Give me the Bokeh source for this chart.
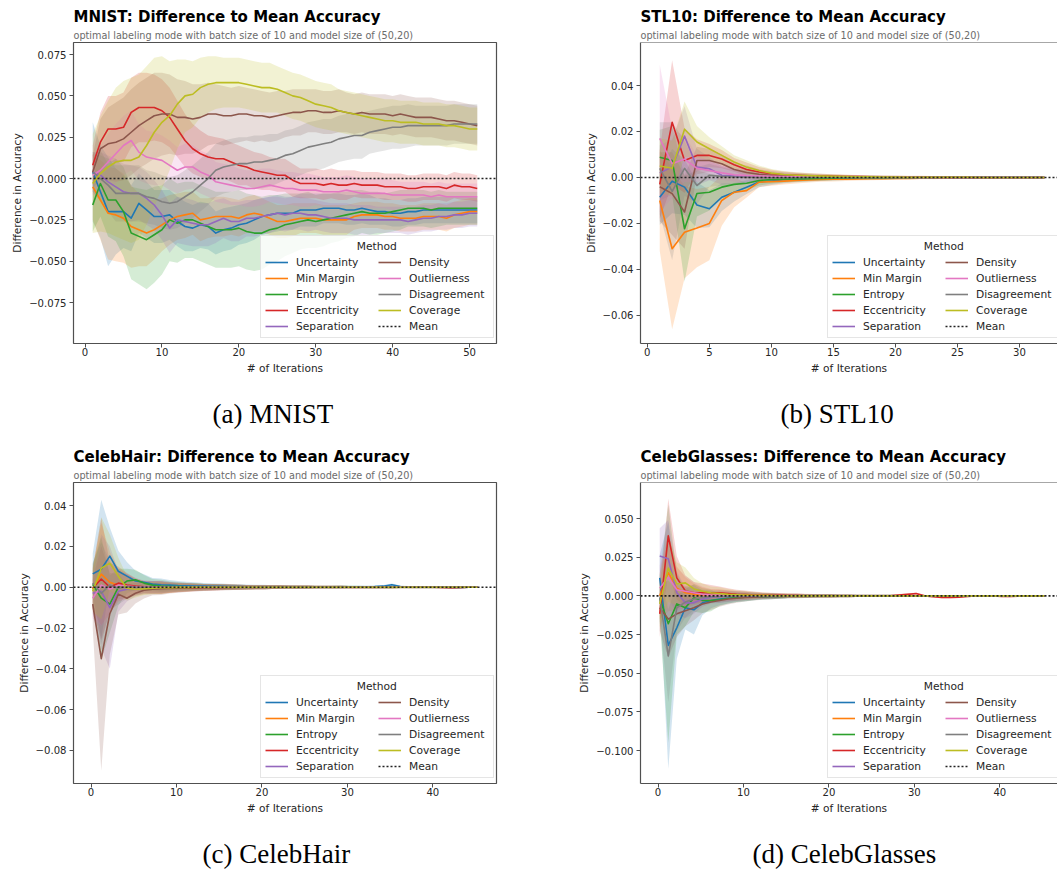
from bokeh.plotting import figure
from bokeh.models import (Range1d, Legend, LegendItem, Span, FixedTicker,
                          CustomJSTickFormatter, Title)
from bokeh.layouts import column, row
from bokeh.embed import file_html
from bokeh.resources import INLINE

# ---------------- data ----------------
METHODS = ["Uncertainty", "Min Margin", "Entropy", "Eccentricity", "Separation",
           "Density", "Outlierness", "Disagreement", "Coverage"]
COLORS = ["#1f77b4", "#ff7f0e", "#2ca02c", "#d62728", "#9467bd",
          "#8c564b", "#e377c2", "#7f7f7f", "#bcbd22"]
MEAN_LEVEL = 0.0
LEGEND_TITLE = "Method"

# ---- MNIST (iterations 1..51) ----
MN_ITER = list(range(1, 52))
MN_UNC = [0.004, -0.008, -0.020, -0.020, -0.020, -0.024, -0.015, -0.019, -0.023, -0.023,
          -0.022, -0.026, -0.029, -0.030, -0.028, -0.029, -0.033, -0.031, -0.030, -0.028,
          -0.027, -0.025, -0.023, -0.022, -0.021, -0.021, -0.021, -0.019, -0.019, -0.019,
          -0.018, -0.018, -0.018, -0.019, -0.019, -0.018, -0.019, -0.020, -0.020, -0.021,
          -0.021, -0.020, -0.020, -0.019, -0.019, -0.019, -0.019, -0.019, -0.019, -0.019,
          -0.019]
MN_MAR = [-0.005, -0.013, -0.021, -0.022, -0.024, -0.029, -0.031, -0.033, -0.031, -0.028,
          -0.025, -0.023, -0.022, -0.021, -0.025, -0.024, -0.023, -0.023, -0.023, -0.024,
          -0.022, -0.021, -0.022, -0.024, -0.026, -0.026, -0.025, -0.024, -0.024, -0.024,
          -0.025, -0.025, -0.025, -0.025, -0.023, -0.022, -0.022, -0.022, -0.023, -0.023,
          -0.024, -0.024, -0.024, -0.023, -0.023, -0.023, -0.024, -0.022, -0.021, -0.020,
          -0.020]
MN_ENT = [-0.016, -0.003, -0.013, -0.013, -0.020, -0.033, -0.035, -0.037, -0.034, -0.031,
          -0.025, -0.027, -0.025, -0.025, -0.027, -0.029, -0.031, -0.031, -0.031, -0.030,
          -0.032, -0.033, -0.033, -0.031, -0.030, -0.028, -0.027, -0.026, -0.025, -0.026,
          -0.025, -0.024, -0.023, -0.022, -0.021, -0.020, -0.021, -0.021, -0.021, -0.020,
          -0.019, -0.018, -0.018, -0.018, -0.019, -0.018, -0.018, -0.018, -0.018, -0.018,
          -0.018]
MN_ECC = [0.008, 0.022, 0.030, 0.030, 0.031, 0.040, 0.043, 0.043, 0.043, 0.041,
          0.037, 0.030, 0.023, 0.018, 0.015, 0.013, 0.012, 0.012, 0.010, 0.008,
          0.007, 0.005, 0.004, 0.003, 0.002, 0.002, -0.001, -0.003, -0.003, -0.003,
          -0.004, -0.003, -0.004, -0.004, -0.003, -0.004, -0.004, -0.004, -0.005, -0.005,
          -0.005, -0.006, -0.006, -0.005, -0.005, -0.005, -0.006, -0.004, -0.005, -0.005,
          -0.006]
MN_SEP = [0.004, 0.002, -0.002, -0.005, -0.008, -0.009, -0.009, -0.012, -0.016, -0.022,
          -0.030, -0.025, -0.026, -0.027, -0.028, -0.028, -0.026, -0.024, -0.026, -0.026,
          -0.024, -0.024, -0.023, -0.022, -0.021, -0.022, -0.021, -0.021, -0.022, -0.022,
          -0.023, -0.024, -0.024, -0.024, -0.025, -0.025, -0.025, -0.025, -0.025, -0.025,
          -0.025, -0.026, -0.025, -0.024, -0.024, -0.023, -0.023, -0.022, -0.022, -0.021,
          -0.021]
MN_DEN = [0.004, 0.018, 0.021, 0.022, 0.024, 0.028, 0.032, 0.035, 0.038, 0.039,
          0.039, 0.037, 0.037, 0.036, 0.037, 0.039, 0.039, 0.038, 0.038, 0.039,
          0.039, 0.038, 0.038, 0.037, 0.038, 0.039, 0.040, 0.040, 0.041, 0.041,
          0.040, 0.040, 0.041, 0.040, 0.039, 0.040, 0.039, 0.039, 0.039, 0.038,
          0.039, 0.038, 0.037, 0.037, 0.037, 0.036, 0.035, 0.035, 0.034, 0.033,
          0.032]
MN_OUT = [0.002, 0.005, 0.010, 0.015, 0.020, 0.023, 0.016, 0.013, 0.012, 0.011,
          0.008, 0.005, 0.007, 0.007, 0.004, 0.002, -0.002, -0.003, -0.004, -0.005,
          -0.006, -0.006, -0.005, -0.004, -0.005, -0.006, -0.006, -0.007, -0.007, -0.007,
          -0.008, -0.008, -0.008, -0.007, -0.008, -0.009, -0.009, -0.009, -0.009, -0.010,
          -0.010, -0.010, -0.010, -0.010, -0.011, -0.010, -0.011, -0.011, -0.011, -0.011,
          -0.011]
MN_DIS = [0.004, 0.000, -0.004, -0.009, -0.009, -0.009, -0.009, -0.011, -0.012, -0.014,
          -0.015, -0.014, -0.011, -0.008, -0.004, 0.000, 0.005, 0.007, 0.008, 0.009,
          0.009, 0.010, 0.010, 0.011, 0.012, 0.014, 0.015, 0.017, 0.019, 0.020,
          0.021, 0.022, 0.024, 0.025, 0.026, 0.026, 0.028, 0.029, 0.030, 0.031,
          0.031, 0.032, 0.032, 0.032, 0.032, 0.032, 0.032, 0.033, 0.033, 0.033,
          0.033]
MN_COV = [-0.003, 0.003, 0.007, 0.010, 0.011, 0.011, 0.013, 0.020, 0.028, 0.034,
          0.038, 0.045, 0.050, 0.051, 0.055, 0.057, 0.058, 0.058, 0.058, 0.058,
          0.057, 0.056, 0.055, 0.055, 0.054, 0.052, 0.050, 0.049, 0.047, 0.045,
          0.044, 0.043, 0.041, 0.040, 0.039, 0.038, 0.037, 0.036, 0.035, 0.035,
          0.034, 0.034, 0.034, 0.033, 0.033, 0.033, 0.032, 0.032, 0.031, 0.030,
          0.030]
# confidence half-widths
MN_UNC_S = [0.030, 0.028, 0.033, 0.026, 0.022, 0.020, 0.018, 0.017, 0.016, 0.016,
            0.015, 0.015, 0.015, 0.014, 0.014, 0.014, 0.013, 0.013, 0.013, 0.012,
            0.012, 0.012, 0.011, 0.011, 0.011, 0.010, 0.010, 0.010, 0.010, 0.010,
            0.009, 0.009, 0.009, 0.009, 0.009, 0.009, 0.009, 0.008, 0.008, 0.008,
            0.008, 0.008, 0.008, 0.008, 0.008, 0.008, 0.008, 0.008, 0.008, 0.008,
            0.008]
MN_MAR_S = [0.020, 0.024, 0.028, 0.028, 0.027, 0.025, 0.022, 0.020, 0.018, 0.016,
            0.015, 0.014, 0.014, 0.013, 0.013, 0.012, 0.012, 0.012, 0.011, 0.011,
            0.011, 0.011, 0.010, 0.010, 0.010, 0.010, 0.010, 0.009, 0.009, 0.009,
            0.009, 0.009, 0.009, 0.009, 0.008, 0.008, 0.008, 0.008, 0.008, 0.008,
            0.008, 0.008, 0.008, 0.008, 0.008, 0.008, 0.008, 0.008, 0.008, 0.008,
            0.008]
MN_ENT_S = [0.016, 0.020, 0.022, 0.025, 0.027, 0.028, 0.029, 0.030, 0.029, 0.027,
            0.025, 0.024, 0.023, 0.023, 0.023, 0.023, 0.023, 0.023, 0.023, 0.023,
            0.023, 0.023, 0.022, 0.021, 0.020, 0.019, 0.018, 0.017, 0.017, 0.016,
            0.016, 0.015, 0.015, 0.014, 0.014, 0.013, 0.013, 0.013, 0.012, 0.012,
            0.012, 0.011, 0.011, 0.011, 0.011, 0.011, 0.010, 0.010, 0.010, 0.010,
            0.010]
MN_ECC_S = [0.012, 0.018, 0.020, 0.020, 0.021, 0.021, 0.021, 0.021, 0.020, 0.019,
            0.018, 0.017, 0.016, 0.015, 0.014, 0.013, 0.013, 0.012, 0.012, 0.012,
            0.011, 0.011, 0.011, 0.010, 0.010, 0.010, 0.010, 0.009, 0.009, 0.009,
            0.009, 0.009, 0.009, 0.009, 0.008, 0.008, 0.008, 0.008, 0.008, 0.008,
            0.008, 0.008, 0.008, 0.008, 0.008, 0.008, 0.008, 0.008, 0.008, 0.008,
            0.008]
MN_SEP_S = [0.012, 0.014, 0.016, 0.017, 0.017, 0.017, 0.016, 0.016, 0.015, 0.015,
            0.015, 0.014, 0.014, 0.014, 0.013, 0.013, 0.013, 0.012, 0.012, 0.012,
            0.011, 0.011, 0.011, 0.011, 0.010, 0.010, 0.010, 0.010, 0.010, 0.009,
            0.009, 0.009, 0.009, 0.009, 0.009, 0.009, 0.009, 0.008, 0.008, 0.008,
            0.008, 0.008, 0.008, 0.008, 0.008, 0.008, 0.008, 0.008, 0.008, 0.008,
            0.008]
MN_DEN_S = [0.010, 0.018, 0.022, 0.024, 0.025, 0.026, 0.026, 0.026, 0.026, 0.025,
            0.024, 0.023, 0.022, 0.021, 0.020, 0.019, 0.018, 0.018, 0.017, 0.017,
            0.016, 0.016, 0.015, 0.015, 0.015, 0.014, 0.014, 0.014, 0.013, 0.013,
            0.013, 0.013, 0.013, 0.012, 0.012, 0.012, 0.012, 0.012, 0.012, 0.012,
            0.012, 0.012, 0.012, 0.012, 0.012, 0.012, 0.012, 0.012, 0.012, 0.012,
            0.012]
MN_OUT_S = [0.012, 0.015, 0.017, 0.018, 0.018, 0.018, 0.017, 0.016, 0.016, 0.015,
            0.015, 0.014, 0.014, 0.013, 0.013, 0.013, 0.012, 0.012, 0.012, 0.011,
            0.011, 0.011, 0.011, 0.010, 0.010, 0.010, 0.010, 0.010, 0.010, 0.009,
            0.009, 0.009, 0.009, 0.009, 0.009, 0.009, 0.009, 0.009, 0.009, 0.009,
            0.008, 0.008, 0.008, 0.008, 0.008, 0.008, 0.008, 0.008, 0.008, 0.008,
            0.008]
MN_DIS_S = [0.012, 0.014, 0.016, 0.017, 0.017, 0.017, 0.017, 0.016, 0.016, 0.016,
            0.016, 0.016, 0.016, 0.016, 0.016, 0.016, 0.016, 0.016, 0.016, 0.016,
            0.016, 0.016, 0.016, 0.016, 0.015, 0.015, 0.015, 0.015, 0.015, 0.015,
            0.015, 0.014, 0.014, 0.014, 0.014, 0.014, 0.013, 0.013, 0.013, 0.013,
            0.013, 0.013, 0.012, 0.012, 0.012, 0.012, 0.012, 0.012, 0.012, 0.012,
            0.012]
MN_COV_S = [0.030, 0.035, 0.040, 0.045, 0.048, 0.050, 0.050, 0.048, 0.045, 0.040,
            0.033, 0.027, 0.022, 0.020, 0.018, 0.017, 0.016, 0.015, 0.015, 0.015,
            0.015, 0.015, 0.015, 0.015, 0.014, 0.014, 0.014, 0.014, 0.014, 0.014,
            0.014, 0.014, 0.013, 0.013, 0.013, 0.013, 0.013, 0.013, 0.013, 0.013,
            0.013, 0.013, 0.013, 0.013, 0.013, 0.013, 0.013, 0.013, 0.013, 0.013,
            0.013]

# ---- STL10 (iterations 1..32) ----
ST_ITER = list(range(1, 33))
ST_UNC = [-0.0086, -0.0016, -0.0042, -0.0120, -0.0136, -0.0086, -0.0064, -0.0042, -0.0020, -0.0015,
          -0.0010, -0.0008, -0.0006, -0.0005, -0.0004, -0.0003, -0.0003, -0.0002, -0.0002, -0.0002,
          -0.0001, -0.0001, -0.0001, -0.0001, 0.0000, 0.0000, 0.0000, 0.0000, 0.0000, 0.0000,
          0.0000, 0.0000]
ST_MAR = [-0.0100, -0.0310, -0.0238, -0.0220, -0.0200, -0.0100, -0.0064, -0.0057, -0.0020, -0.0018,
          -0.0016, -0.0013, -0.0011, -0.0009, -0.0008, -0.0007, -0.0006, -0.0005, -0.0005, -0.0004,
          -0.0004, -0.0003, -0.0003, -0.0003, -0.0002, -0.0002, -0.0002, -0.0001, -0.0001, -0.0001,
          -0.0001, 0.0000]
ST_ENT = [0.0088, 0.0074, -0.0223, -0.0070, -0.0064, -0.0042, -0.0030, -0.0025, -0.0013, -0.0009,
          -0.0007, -0.0006, -0.0005, -0.0004, -0.0003, -0.0003, -0.0002, -0.0002, -0.0002, -0.0001,
          -0.0001, -0.0001, -0.0001, 0.0000, 0.0000, 0.0000, 0.0000, 0.0000, 0.0000, 0.0000,
          0.0000, 0.0000]
ST_ECC = [-0.0030, 0.0240, 0.0074, 0.0096, 0.0096, 0.0080, 0.0055, 0.0035, 0.0024, 0.0016,
          0.0011, 0.0009, 0.0007, 0.0006, 0.0005, 0.0004, 0.0004, 0.0003, 0.0003, 0.0002,
          0.0002, 0.0002, 0.0001, 0.0001, 0.0001, 0.0001, 0.0000, 0.0000, 0.0000, 0.0000,
          0.0000, 0.0000]
ST_SEP = [0.0020, 0.0045, 0.0180, 0.0045, 0.0038, 0.0010, 0.0006, 0.0004, 0.0003, 0.0002,
          0.0002, 0.0001, 0.0001, 0.0001, 0.0001, 0.0000, 0.0000, 0.0000, 0.0000, 0.0000,
          0.0000, 0.0000, 0.0000, 0.0000, 0.0000, 0.0000, 0.0000, 0.0000, 0.0000, 0.0000,
          0.0000, 0.0000]
ST_DEN = [-0.0040, -0.0070, -0.0150, 0.0074, 0.0074, 0.0060, 0.0035, 0.0022, 0.0014, 0.0010,
          0.0008, 0.0006, 0.0005, 0.0004, 0.0003, 0.0003, 0.0002, 0.0002, 0.0002, 0.0001,
          0.0001, 0.0001, 0.0001, 0.0001, 0.0000, 0.0000, 0.0000, 0.0000, 0.0000, 0.0000,
          0.0000, 0.0000]
ST_OUT = [0.0170, 0.0060, 0.0080, 0.0040, 0.0030, 0.0020, 0.0012, 0.0008, 0.0006, 0.0005,
          0.0004, 0.0003, 0.0003, 0.0002, 0.0002, 0.0002, 0.0001, 0.0001, 0.0001, 0.0001,
          0.0001, 0.0000, 0.0000, 0.0000, 0.0000, 0.0000, 0.0000, 0.0000, 0.0000, 0.0000,
          0.0000, 0.0000]
ST_DIS = [0.0040, -0.0060, 0.0040, -0.0035, 0.0010, 0.0005, 0.0002, 0.0001, 0.0000, -0.0001,
          -0.0001, -0.0001, 0.0000, 0.0000, 0.0000, 0.0000, 0.0000, 0.0000, 0.0000, 0.0000,
          0.0000, 0.0000, 0.0000, 0.0000, 0.0000, 0.0000, 0.0000, 0.0000, 0.0000, 0.0000,
          0.0000, 0.0000]
ST_COV = [0.0050, 0.0040, 0.0210, 0.0154, 0.0125, 0.0096, 0.0067, 0.0045, 0.0030, 0.0019,
          0.0013, 0.0010, 0.0008, 0.0006, 0.0005, 0.0004, 0.0003, 0.0003, 0.0002, 0.0002,
          0.0001, 0.0001, 0.0001, 0.0001, 0.0001, 0.0001, 0.0000, 0.0000, 0.0000, 0.0000,
          0.0000, 0.0000]
ST_TAIL_S = [0.0030, 0.0022, 0.0018, 0.0015, 0.0013, 0.0011, 0.0010, 0.0009, 0.0008, 0.0007,
             0.0007, 0.0006, 0.0006, 0.0005, 0.0005, 0.0005, 0.0004, 0.0004, 0.0004, 0.0004,
             0.0003, 0.0003, 0.0003, 0.0003, 0.0003]
ST_UNC_S = [0.012, 0.014, 0.012, 0.010, 0.008, 0.006, 0.004] + ST_TAIL_S
ST_MAR_S = [0.022, 0.035, 0.020, 0.017, 0.016, 0.011, 0.0065] + ST_TAIL_S
ST_ENT_S = [0.012, 0.015, 0.023, 0.010, 0.008, 0.005, 0.004] + ST_TAIL_S
ST_ECC_S = [0.015, 0.027, 0.014, 0.007, 0.005, 0.004, 0.003] + ST_TAIL_S
ST_SEP_S = [0.012, 0.012, 0.013, 0.008, 0.005, 0.004, 0.003] + ST_TAIL_S
ST_DEN_S = [0.015, 0.018, 0.016, 0.006, 0.005, 0.004, 0.003] + ST_TAIL_S
ST_OUT_S = [0.032, 0.015, 0.010, 0.006, 0.004, 0.003, 0.003] + ST_TAIL_S
ST_DIS_S = [0.020, 0.030, 0.012, 0.008, 0.005, 0.004, 0.003] + ST_TAIL_S
ST_COV_S = [0.012, 0.012, 0.012, 0.007, 0.005, 0.004, 0.003] + ST_TAIL_S

# ---- CelebHair (46 steps starting at 0.2) ----
CH_ITER = [0.2, 1.2, 2.2, 3.2, 4.2, 5.2, 6.2, 7.2, 8.2, 9.2,
           10.2, 11.2, 12.2, 13.2, 14.2, 15.2, 16.2, 17.2, 18.2, 19.2,
           20.2, 21.2, 22.2, 23.2, 24.2, 25.2, 26.2, 27.2, 28.2, 29.2,
           30.2, 31.2, 32.2, 33.2, 34.2, 35.2, 36.2, 37.2, 38.2, 39.2,
           40.2, 41.2, 42.2, 43.2, 44.2, 45.2]
CH_UNC = [0.0065, 0.0088, 0.0152, 0.0078, 0.0054, 0.0030, 0.0024, 0.0015, 0.0012, 0.0010,
          0.0008, 0.0007, 0.0006, 0.0005, 0.0004, 0.0004, 0.0003, 0.0003, 0.0002, 0.0002,
          0.0002, 0.0001, 0.0001, 0.0001, 0.0000, 0.0000, 0.0000, 0.0000, 0.0000, 0.0001,
          0.0001, 0.0002, 0.0002, 0.0003, 0.0005, 0.0012, 0.0003, 0.0001, 0.0000, 0.0000,
          0.0000, 0.0000, -0.0001, -0.0001, 0.0000, 0.0000]
CH_MAR = [-0.0010, 0.0064, 0.0024, 0.0010, 0.0005, -0.0002, -0.0004, -0.0003, -0.0002, -0.0002,
          -0.0001, -0.0001, -0.0001, 0.0000, 0.0000, 0.0000, 0.0000, 0.0000, 0.0000, 0.0000,
          0.0000, 0.0000, 0.0000, 0.0000, 0.0000, 0.0000, 0.0000, 0.0000, 0.0000, 0.0000,
          0.0000, 0.0000, 0.0000, 0.0000, 0.0000, 0.0000, 0.0000, 0.0000, 0.0000, 0.0000,
          0.0000, 0.0000, 0.0000, 0.0000, 0.0000, 0.0000]
CH_ENT = [0.0014, -0.0054, -0.0083, 0.0000, 0.0030, 0.0036, 0.0020, 0.0010, 0.0006, 0.0004,
          0.0003, 0.0002, 0.0002, 0.0001, 0.0001, 0.0000, 0.0000, 0.0000, 0.0000, 0.0000,
          0.0000, 0.0000, 0.0000, 0.0000, 0.0000, 0.0000, 0.0000, 0.0000, 0.0000, 0.0001,
          0.0002, 0.0001, 0.0000, 0.0000, 0.0000, 0.0000, 0.0000, 0.0000, 0.0000, 0.0000,
          0.0000, 0.0000, 0.0000, 0.0000, 0.0000, 0.0000]
CH_ECC = [-0.0005, 0.0040, 0.0000, 0.0020, 0.0010, 0.0005, 0.0002, 0.0000, -0.0002, -0.0003,
          -0.0003, -0.0002, -0.0002, -0.0001, -0.0001, -0.0001, 0.0000, 0.0000, 0.0000, 0.0000,
          0.0000, 0.0000, 0.0000, 0.0000, 0.0000, 0.0000, 0.0000, 0.0000, 0.0000, 0.0000,
          0.0000, 0.0000, 0.0000, 0.0000, 0.0000, 0.0000, 0.0000, 0.0000, 0.0000, 0.0000,
          0.0000, -0.0001, -0.0002, -0.0001, 0.0000, 0.0000]
CH_SEP = [-0.0030, -0.0020, -0.0100, -0.0020, -0.0010, -0.0005, -0.0003, -0.0002, -0.0001, 0.0000,
          0.0000, 0.0000, 0.0000, 0.0000, 0.0000, 0.0000, 0.0000, 0.0000, 0.0000, 0.0000,
          0.0000, 0.0000, 0.0000, 0.0000, 0.0000, 0.0000, 0.0000, 0.0000, 0.0000, 0.0000,
          0.0000, 0.0000, 0.0000, 0.0000, 0.0000, 0.0001, 0.0001, 0.0000, 0.0000, 0.0000,
          0.0000, 0.0000, 0.0000, 0.0000, 0.0000, 0.0000]
CH_DEN = [-0.0083, -0.0350, -0.0130, -0.0034, -0.0054, -0.0030, -0.0015, -0.0010, -0.0008, -0.0006,
          -0.0005, -0.0004, -0.0003, -0.0003, -0.0002, -0.0002, -0.0002, -0.0001, -0.0001, -0.0001,
          -0.0001, 0.0000, 0.0000, 0.0000, 0.0000, 0.0000, 0.0000, 0.0000, 0.0000, 0.0000,
          0.0000, 0.0000, 0.0000, 0.0000, 0.0000, 0.0000, 0.0000, 0.0000, 0.0000, 0.0000,
          0.0000, 0.0000, 0.0000, 0.0000, 0.0000, 0.0000]
CH_OUT = [-0.0054, 0.0010, -0.0010, 0.0010, 0.0005, 0.0002, 0.0001, 0.0000, 0.0000, 0.0000,
          0.0000, 0.0000, 0.0000, 0.0000, 0.0000, 0.0000, 0.0000, 0.0000, 0.0000, 0.0000,
          0.0000, 0.0000, 0.0000, 0.0000, 0.0000, 0.0000, 0.0000, 0.0000, 0.0000, 0.0000,
          0.0000, 0.0000, 0.0000, 0.0000, 0.0000, 0.0001, 0.0001, 0.0000, 0.0000, 0.0000,
          0.0000, 0.0000, 0.0000, 0.0000, 0.0000, 0.0000]
CH_DIS = [0.0020, -0.0030, 0.0010, -0.0005, 0.0003, 0.0001, 0.0000, 0.0000, 0.0000, 0.0000,
          0.0000, 0.0000, 0.0000, 0.0000, 0.0000, 0.0000, 0.0000, 0.0000, 0.0000, 0.0000,
          0.0000, 0.0000, 0.0000, 0.0000, 0.0000, 0.0000, 0.0000, 0.0000, 0.0000, 0.0000,
          0.0000, 0.0000, 0.0000, 0.0000, 0.0000, 0.0000, 0.0000, 0.0000, 0.0000, 0.0000,
          0.0000, 0.0000, 0.0000, 0.0000, 0.0000, 0.0000]
CH_COV = [-0.0020, 0.0093, 0.0118, 0.0054, -0.0005, -0.0010, -0.0008, -0.0005, -0.0003, -0.0002,
          -0.0001, -0.0001, 0.0000, 0.0000, 0.0000, 0.0000, 0.0000, 0.0000, 0.0000, 0.0000,
          0.0000, 0.0000, 0.0000, 0.0000, 0.0000, 0.0000, 0.0000, 0.0000, 0.0000, 0.0000,
          0.0000, 0.0000, 0.0000, 0.0000, 0.0000, 0.0000, 0.0000, 0.0000, 0.0000, 0.0000,
          0.0000, 0.0000, 0.0000, 0.0000, 0.0000, 0.0000]
CH_TAIL_S = [0.0030, 0.0030, 0.0025, 0.0022, 0.0020, 0.0018, 0.0016, 0.0015, 0.0014, 0.0013,
             0.0012, 0.0011, 0.0010, 0.0010, 0.0009, 0.0009, 0.0008, 0.0008, 0.0008, 0.0007,
             0.0007, 0.0007, 0.0007, 0.0006, 0.0006, 0.0006, 0.0006, 0.0006, 0.0006, 0.0005,
             0.0005, 0.0005, 0.0005, 0.0005, 0.0005, 0.0005, 0.0005, 0.0004, 0.0004]
CH_UNC_S = [0.010, 0.034, 0.014, 0.010, 0.007, 0.005, 0.004] + CH_TAIL_S
CH_MAR_S = [0.010, 0.025, 0.015, 0.008, 0.006, 0.004, 0.003] + CH_TAIL_S
CH_ENT_S = [0.010, 0.030, 0.014, 0.009, 0.006, 0.005, 0.004] + CH_TAIL_S
CH_ECC_S = [0.010, 0.030, 0.012, 0.008, 0.006, 0.004, 0.003] + CH_TAIL_S
CH_SEP_S = [0.010, 0.028, 0.030, 0.010, 0.006, 0.004, 0.003] + CH_TAIL_S
CH_DEN_S = [0.012, 0.055, 0.020, 0.010, 0.007, 0.005, 0.004] + CH_TAIL_S
CH_OUT_S = [0.010, 0.020, 0.012, 0.008, 0.006, 0.004, 0.003] + CH_TAIL_S
CH_DIS_S = [0.010, 0.025, 0.012, 0.008, 0.006, 0.004, 0.003] + CH_TAIL_S
CH_COV_S = [0.010, 0.025, 0.014, 0.009, 0.006, 0.004, 0.003] + CH_TAIL_S

# ---- CelebGlasses (46 steps starting at 0.2) ----
CG_ITER = list(CH_ITER)
CG_UNC = [0.0116, -0.0320, -0.0206, -0.0077, -0.0090, -0.0045, -0.0030, -0.0020, -0.0014, -0.0010,
          -0.0008, -0.0006, -0.0005, -0.0004, -0.0003, -0.0002, -0.0002, -0.0001, -0.0001, 0.0000,
          0.0000, 0.0000, 0.0000, 0.0000, 0.0000, 0.0000, 0.0000, 0.0000, 0.0000, 0.0000,
          0.0000, 0.0000, 0.0000, 0.0000, 0.0000, 0.0000, 0.0000, 0.0000, 0.0000, 0.0000,
          0.0000, 0.0000, 0.0000, 0.0000, 0.0000, 0.0000]
CG_MAR = [0.0000, 0.0150, 0.0050, 0.0020, 0.0010, 0.0005, 0.0003, 0.0002, 0.0001, 0.0000,
          0.0000, 0.0000, 0.0000, 0.0000, 0.0000, 0.0000, 0.0000, 0.0000, 0.0000, 0.0000,
          0.0000, 0.0000, 0.0000, 0.0000, 0.0000, 0.0000, 0.0000, 0.0000, 0.0000, 0.0000,
          0.0000, 0.0000, 0.0000, 0.0000, 0.0000, 0.0000, 0.0000, 0.0000, 0.0000, 0.0000,
          0.0000, 0.0000, 0.0000, 0.0000, 0.0000, 0.0000]
CG_ENT = [-0.0013, -0.0180, -0.0052, -0.0077, -0.0013, -0.0030, -0.0030, -0.0025, -0.0015, -0.0010,
          -0.0008, -0.0006, -0.0005, -0.0004, -0.0003, -0.0002, -0.0002, -0.0001, -0.0001, 0.0000,
          0.0000, 0.0000, 0.0000, 0.0000, 0.0000, 0.0000, 0.0000, 0.0000, 0.0000, 0.0000,
          0.0000, 0.0000, 0.0000, 0.0000, -0.0002, -0.0003, -0.0001, 0.0000, 0.0000, 0.0000,
          0.0000, 0.0000, 0.0000, 0.0000, 0.0000, 0.0000]
CG_ECC = [-0.0116, 0.0388, 0.0116, 0.0032, 0.0020, 0.0020, 0.0020, 0.0020, 0.0015, 0.0010,
          0.0008, 0.0006, 0.0005, 0.0004, 0.0003, 0.0002, 0.0002, 0.0001, 0.0001, 0.0000,
          0.0000, 0.0000, 0.0000, 0.0000, 0.0000, 0.0000, 0.0000, 0.0000, 0.0005, 0.0010,
          0.0015, 0.0000, -0.0005, -0.0010, -0.0010, -0.0008, -0.0004, 0.0000, 0.0000, 0.0000,
          -0.0003, -0.0004, -0.0002, 0.0000, 0.0000, 0.0000]
CG_SEP = [0.0258, 0.0240, 0.0020, -0.0045, -0.0045, -0.0020, -0.0010, -0.0006, -0.0004, -0.0002,
          0.0000, 0.0000, 0.0000, 0.0000, 0.0000, 0.0000, 0.0000, 0.0000, 0.0000, 0.0000,
          0.0000, 0.0000, 0.0000, 0.0000, 0.0000, 0.0000, 0.0000, 0.0000, 0.0000, 0.0000,
          0.0000, 0.0000, 0.0000, 0.0000, 0.0000, 0.0000, 0.0000, 0.0000, 0.0000, 0.0000,
          0.0000, 0.0000, 0.0000, 0.0000, 0.0000, 0.0000]
CG_DEN = [-0.0077, -0.0150, -0.0116, -0.0096, -0.0077, -0.0052, -0.0040, -0.0030, -0.0020, -0.0015,
          -0.0010, -0.0008, -0.0006, -0.0004, -0.0003, -0.0002, -0.0001, -0.0001, 0.0000, 0.0000,
          0.0000, 0.0000, 0.0000, 0.0000, 0.0000, 0.0000, 0.0000, 0.0000, 0.0000, 0.0000,
          0.0000, 0.0000, 0.0000, 0.0000, 0.0000, 0.0000, 0.0000, 0.0000, 0.0000, 0.0000,
          0.0000, 0.0000, 0.0000, 0.0000, 0.0000, 0.0000]
CG_OUT = [0.0050, 0.0120, 0.0040, 0.0030, 0.0020, 0.0010, 0.0005, 0.0003, 0.0002, 0.0001,
          0.0000, 0.0000, 0.0000, 0.0000, 0.0000, 0.0000, 0.0000, 0.0000, 0.0000, 0.0000,
          0.0000, 0.0000, 0.0000, 0.0000, 0.0000, 0.0000, 0.0000, 0.0000, 0.0000, 0.0000,
          0.0000, 0.0000, 0.0000, 0.0000, 0.0000, 0.0000, 0.0000, 0.0000, 0.0000, 0.0000,
          0.0000, 0.0000, 0.0000, 0.0000, 0.0000, 0.0000]
CG_DIS = [-0.0010, -0.0388, -0.0077, -0.0040, -0.0020, -0.0010, -0.0006, -0.0004, -0.0002, -0.0001,
          0.0000, 0.0000, 0.0000, 0.0000, 0.0000, 0.0000, 0.0000, 0.0000, 0.0000, 0.0000,
          0.0000, 0.0000, 0.0000, 0.0000, 0.0000, 0.0000, 0.0000, 0.0000, 0.0000, 0.0000,
          0.0000, 0.0000, 0.0000, 0.0000, 0.0000, 0.0000, 0.0000, 0.0000, 0.0000, 0.0000,
          0.0000, 0.0000, 0.0000, 0.0000, 0.0000, 0.0000]
CG_COV = [-0.0052, 0.0180, 0.0077, 0.0084, 0.0045, 0.0030, 0.0020, 0.0015, 0.0010, 0.0007,
          0.0005, 0.0004, 0.0003, 0.0002, 0.0001, 0.0001, 0.0000, 0.0000, 0.0000, 0.0000,
          0.0000, 0.0000, 0.0000, 0.0000, 0.0000, 0.0000, 0.0000, 0.0000, 0.0000, 0.0000,
          0.0000, 0.0000, 0.0000, 0.0000, 0.0000, 0.0000, 0.0000, 0.0000, 0.0000, 0.0000,
          0.0000, 0.0000, 0.0000, 0.0000, 0.0000, 0.0000]
CG_TAIL_S = [0.0040, 0.0035, 0.0030, 0.0026, 0.0022, 0.0019, 0.0017, 0.0015, 0.0014, 0.0013,
             0.0012, 0.0011, 0.0010, 0.0010, 0.0009, 0.0009, 0.0008, 0.0008, 0.0008, 0.0007,
             0.0007, 0.0007, 0.0007, 0.0006, 0.0006, 0.0006, 0.0006, 0.0006, 0.0006, 0.0005,
             0.0005, 0.0005, 0.0005, 0.0005, 0.0005, 0.0005, 0.0005, 0.0004, 0.0004]
CG_UNC_S = [0.015, 0.080, 0.020, 0.014, 0.016, 0.008, 0.005] + CG_TAIL_S
CG_MAR_S = [0.015, 0.025, 0.014, 0.010, 0.007, 0.005, 0.004] + CG_TAIL_S
CG_ENT_S = [0.015, 0.077, 0.020, 0.012, 0.009, 0.008, 0.007] + CG_TAIL_S
CG_ECC_S = [0.015, 0.024, 0.014, 0.010, 0.007, 0.006, 0.005] + CG_TAIL_S
CG_SEP_S = [0.018, 0.025, 0.014, 0.010, 0.007, 0.005, 0.004] + CG_TAIL_S
CG_DEN_S = [0.015, 0.025, 0.015, 0.010, 0.008, 0.006, 0.005] + CG_TAIL_S
CG_OUT_S = [0.015, 0.025, 0.014, 0.010, 0.007, 0.005, 0.004] + CG_TAIL_S
CG_DIS_S = [0.015, 0.030, 0.015, 0.010, 0.007, 0.005, 0.004] + CG_TAIL_S
CG_COV_S = [0.015, 0.022, 0.014, 0.010, 0.007, 0.005, 0.004] + CG_TAIL_S

# axes ticks / labels
MN_XTICKS = [0, 10, 20, 30, 40, 50]
MN_YTICKS = [-0.075, -0.05, -0.025, 0.0, 0.025, 0.05, 0.075]
ST_XTICKS = [0, 5, 10, 15, 20, 25, 30]
ST_YTICKS = [-0.06, -0.04, -0.02, 0.0, 0.02, 0.04]
CH_XTICKS = [0, 10, 20, 30, 40]
CH_YTICKS = [-0.08, -0.06, -0.04, -0.02, 0.0, 0.02, 0.04]
CG_XTICKS = [0, 10, 20, 30, 40]
CG_YTICKS = [-0.1, -0.075, -0.05, -0.025, 0.0, 0.025, 0.05]

SUBTITLE = "optimal labeling mode with batch size of 10 and model size of (50,20)"

# ---------------- styling ----------------
FONT = "DejaVu Sans"
SPINE = "#505050"
TXT = "#262626"
NBSP = "\u00a0"


def build(x, means, spreads, xr, yr, xticks, yticks, ydec, left, title, caption, cap_offset,
          height, top, bottom):
    width = 536 if left else 521
    p = figure(width=width, height=height, output_backend="svg", toolbar_location=None,
               x_range=Range1d(xr[0], xr[1]), y_range=Range1d(yr[0], yr[1]),
               min_border_left=73 if left else 104, min_border_right=40 if left else 0,
               min_border_top=top, min_border_bottom=bottom)
    p.background_fill_color = "white"
    p.border_fill_color = "white"
    p.grid.visible = False
    if left:
        p.outline_line_color = SPINE
        p.outline_line_width = 1.2
    else:
        p.outline_line_color = None
        p.add_layout(Span(location=yr[1], dimension="width", line_color=SPINE, line_width=1.2))

    for ax in (p.xaxis[0], p.yaxis[0]):
        ax.axis_line_color = None if left else SPINE
        ax.axis_line_width = 1.2
        ax.major_tick_out = 4
        ax.major_tick_in = 0
        ax.minor_tick_out = 0
        ax.minor_tick_in = 0
        ax.major_tick_line_color = SPINE
        ax.major_label_text_font = FONT
        ax.major_label_text_font_size = "10.1px"
        ax.major_label_text_color = TXT
        ax.axis_label_text_font = FONT
        ax.axis_label_text_font_size = "10.6px"
        ax.axis_label_text_font_style = "normal"
        ax.axis_label_text_color = TXT
    p.xaxis.ticker = FixedTicker(ticks=xticks)
    p.yaxis.ticker = FixedTicker(ticks=yticks)
    p.xaxis.axis_label = "# of Iterations"
    p.yaxis.axis_label = "Difference in Accuracy"
    p.xaxis.major_label_standoff = 0
    p.xaxis.axis_label_standoff = 3
    p.yaxis.major_label_standoff = 3
    p.yaxis.axis_label_standoff = 3
    p.yaxis.formatter = CustomJSTickFormatter(args=dict(d=ydec), code="""
        const v = Math.abs(tick) < 1e-12 ? 0 : tick;
        return (v < 0 ? '\u2212' : '') + Math.abs(v).toFixed(d);
    """)

    # bands first (under all lines), then lines
    for m, s, c in zip(means, spreads, COLORS):
        n = min(len(x), len(m), len(s))
        lo = [m[i] - s[i] for i in range(n)]
        hi = [m[i] + s[i] for i in range(n)]
        p.varea(x=x[:n], y1=lo, y2=hi, fill_color=c, fill_alpha=0.2)
    lines = []
    for m, c in zip(means, COLORS):
        n = min(len(x), len(m))
        lines.append(p.line(x=x[:n], y=m[:n], line_color=c, line_width=1.6, line_join="round"))
    mean_r = p.line(x=[xr[0], xr[1]], y=[MEAN_LEVEL, MEAN_LEVEL], line_color="#222222",
                    line_width=1.6, line_dash="2 2")

    items = [LegendItem(label=nm, renderers=[r]) for nm, r in zip(METHODS, lines)]
    items.append(LegendItem(label="Mean", renderers=[mean_r]))
    # legend title padded with no-break spaces so that it sits centred over the two columns
    leg = Legend(items=items, location=(187, 5), orientation="vertical", nrows=5,
                 title=NBSP * 27 + LEGEND_TITLE, title_text_font=FONT,
                 title_text_font_size="10.7px", title_text_font_style="normal",
                 title_text_color=TXT, title_standoff=2,
                 label_text_font=FONT, label_text_font_size="10.7px", label_text_color=TXT,
                 glyph_width=23, glyph_height=14, label_height=14, label_width=80,
                 label_standoff=8, spacing=2, padding=4, margin=0,
                 border_line_color="#cccccc", border_line_width=1,
                 background_fill_color="white", background_fill_alpha=0.8)
    p.add_layout(leg)

    # titles above the frame (first added = nearest the frame)
    p.add_layout(Title(text=SUBTITLE, align="left", vertical_align="bottom", standoff=4,
                       text_font=FONT, text_font_size="9.7px", text_font_style="normal",
                       text_color="#6b6b6b"), "above")
    p.add_layout(Title(text=title, align="left", vertical_align="bottom", standoff=0,
                       text_font=FONT, text_font_size="15px", text_font_style="bold",
                       text_color="black"), "above")
    # sub-figure caption below the axis
    p.add_layout(Title(text=" ", align="left", standoff=17, text_font=FONT,
                       text_font_size="1px"), "below")
    p.add_layout(Title(text=caption, align="left", vertical_align="bottom", standoff=0,
                       offset=cap_offset, text_font="Liberation Serif", text_font_size="27px",
                       text_font_style="normal", text_color="black"), "below")
    return p


pa = build(MN_ITER, [MN_UNC, MN_MAR, MN_ENT, MN_ECC, MN_SEP, MN_DEN, MN_OUT, MN_DIS, MN_COV],
           [MN_UNC_S, MN_MAR_S, MN_ENT_S, MN_ECC_S, MN_SEP_S, MN_DEN_S, MN_OUT_S, MN_DIS_S, MN_COV_S],
           (-1.5, 53.5), (-0.0998, 0.0823), MN_XTICKS, MN_YTICKS, 3, True,
           "MNIST: Difference to Mean Accuracy", "(a) MNIST", 139, 444, 42, 101)
pb = build(ST_ITER, [ST_UNC, ST_MAR, ST_ENT, ST_ECC, ST_SEP, ST_DEN, ST_OUT, ST_DIS, ST_COV],
           [ST_UNC_S, ST_MAR_S, ST_ENT_S, ST_ECC_S, ST_SEP_S, ST_DEN_S, ST_OUT_S, ST_DIS_S, ST_COV_S],
           (-0.55, 33.06), (-0.0722, 0.0587), ST_XTICKS, ST_YTICKS, 2, False,
           "STL10: Difference to Mean Accuracy", "(b) STL10", 140, 444, 42, 101)
pc = build(CH_ITER, [CH_UNC, CH_MAR, CH_ENT, CH_ECC, CH_SEP, CH_DEN, CH_OUT, CH_DIS, CH_COV],
           [CH_UNC_S, CH_MAR_S, CH_ENT_S, CH_ECC_S, CH_SEP_S, CH_DEN_S, CH_OUT_S, CH_DIS_S, CH_COV_S],
           (-2.05, 47.45), (-0.0962, 0.0513), CH_XTICKS, CH_YTICKS, 2, True,
           "CelebHair: Difference to Mean Accuracy", "(c) CelebHair", 129, 427, 38, 88)
pd_ = build(CG_ITER, [CG_UNC, CG_MAR, CG_ENT, CG_ECC, CG_SEP, CG_DEN, CG_OUT, CG_DIS, CG_COV],
            [CG_UNC_S, CG_MAR_S, CG_ENT_S, CG_ECC_S, CG_SEP_S, CG_DEN_S, CG_OUT_S, CG_DIS_S, CG_COV_S],
            (-2.05, 46.75), (-0.1213, 0.0733), CG_XTICKS, CG_YTICKS, 3, False,
            "CelebGlasses: Difference to Mean Accuracy", "(d) CelebGlasses", 112, 427, 38, 88)

layout = column(row(pa, pb), row(pc, pd_))
open("out.html", "w").write(file_html(layout, INLINE, title="Difference to Mean Accuracy"))
